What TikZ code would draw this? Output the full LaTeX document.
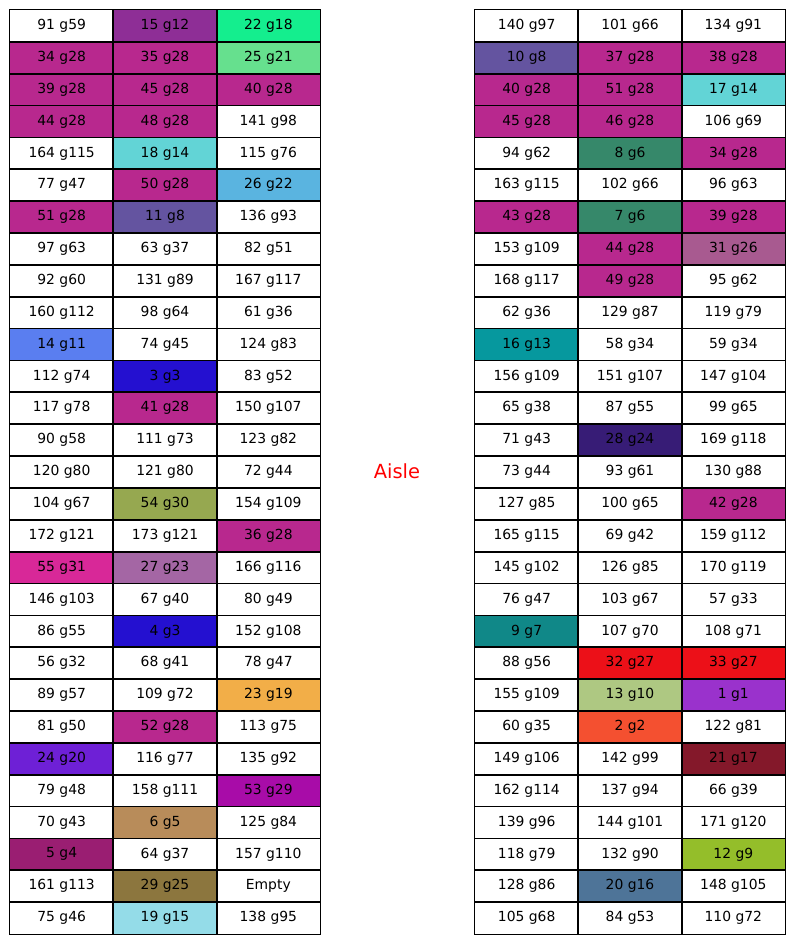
\documentclass[tikz,border=0pt]{standalone}
\usepackage{fontspec}
\setmainfont{DejaVu Sans}
\usepackage{tikz}

% group colours
\definecolor{g1}{HTML}{9A32CC}
\definecolor{g2}{HTML}{F45030}
\definecolor{g3}{HTML}{2410D0}
\definecolor{g4}{HTML}{9A1E72}
\definecolor{g5}{HTML}{B88C5A}
\definecolor{g6}{HTML}{36886A}
\definecolor{g7}{HTML}{108888}
\definecolor{g8}{HTML}{6454A0}
\definecolor{g9}{HTML}{94BE2A}
\definecolor{g10}{HTML}{AEC882}
\definecolor{g11}{HTML}{5A7EF0}
\definecolor{g12}{HTML}{8E2E96}
\definecolor{g13}{HTML}{06989E}
\definecolor{g14}{HTML}{62D4D6}
\definecolor{g15}{HTML}{94DCE8}
\definecolor{g16}{HTML}{4E7498}
\definecolor{g17}{HTML}{84182A}
\definecolor{g18}{HTML}{14EE8E}
\definecolor{g19}{HTML}{F2AE48}
\definecolor{g20}{HTML}{6E20D6}
\definecolor{g21}{HTML}{66E08E}
\definecolor{g22}{HTML}{5AB4E0}
\definecolor{g23}{HTML}{A466A4}
\definecolor{g24}{HTML}{371C76}
\definecolor{g25}{HTML}{8C763E}
\definecolor{g26}{HTML}{A85A90}
\definecolor{g27}{HTML}{EC1018}
\definecolor{g28}{HTML}{B8288E}
\definecolor{g29}{HTML}{A80CA8}
\definecolor{g30}{HTML}{96A850}
\definecolor{g31}{HTML}{D82898}

\tikzset{
  cell/.style={inner sep=0pt,
    minimum width=74.4pt, minimum height=22.94pt,
    font=\fontsize{10}{12}\selectfont},
  cellline/.style={draw=black, line width=0.85pt},
}

\begin{document}
\begin{tikzpicture}[x=0.72pt, y=-0.72pt]
\useasboundingbox (0,0) rectangle (794,944);
\def\cw{103.33}
\def\rh{31.862}
% left block
\foreach \r/\la/\fa/\lb/\fb/\lc/\fc in {
  1/91 g59/white/15 g12/g12/22 g18/g18,
  2/34 g28/g28/35 g28/g28/25 g21/g21,
  3/39 g28/g28/45 g28/g28/40 g28/g28,
  4/44 g28/g28/48 g28/g28/141 g98/white,
  5/164 g115/white/18 g14/g14/115 g76/white,
  6/77 g47/white/50 g28/g28/26 g22/g22,
  7/51 g28/g28/11 g8/g8/136 g93/white,
  8/97 g63/white/63 g37/white/82 g51/white,
  9/92 g60/white/131 g89/white/167 g117/white,
  10/160 g112/white/98 g64/white/61 g36/white,
  11/14 g11/g11/74 g45/white/124 g83/white,
  12/112 g74/white/3 g3/g3/83 g52/white,
  13/117 g78/white/41 g28/g28/150 g107/white,
  14/90 g58/white/111 g73/white/123 g82/white,
  15/120 g80/white/121 g80/white/72 g44/white,
  16/104 g67/white/54 g30/g30/154 g109/white,
  17/172 g121/white/173 g121/white/36 g28/g28,
  18/55 g31/g31/27 g23/g23/166 g116/white,
  19/146 g103/white/67 g40/white/80 g49/white,
  20/86 g55/white/4 g3/g3/152 g108/white,
  21/56 g32/white/68 g41/white/78 g47/white,
  22/89 g57/white/109 g72/white/23 g19/g19,
  23/81 g50/white/52 g28/g28/113 g75/white,
  24/24 g20/g20/116 g77/white/135 g92/white,
  25/79 g48/white/158 g111/white/53 g29/g29,
  26/70 g43/white/6 g5/g5/125 g84/white,
  27/5 g4/g4/64 g37/white/157 g110/white,
  28/161 g113/white/29 g25/g25/Empty/white,
  29/75 g46/white/19 g15/g15/138 g95/white}
{
  \node[cell, fill=\fa] (L\r-1) at ({10+0.5*\cw},{10+(\r-0.5)*\rh}) {\la};
  \node[cell, fill=\fb] (L\r-2) at ({10+1.5*\cw},{10+(\r-0.5)*\rh}) {\lb};
  \node[cell, fill=\fc] (L\r-3) at ({10+2.5*\cw},{10+(\r-0.5)*\rh}) {\lc};
}
% right block
\foreach \r/\la/\fa/\lb/\fb/\lc/\fc in {
  1/140 g97/white/101 g66/white/134 g91/white,
  2/10 g8/g8/37 g28/g28/38 g28/g28,
  3/40 g28/g28/51 g28/g28/17 g14/g14,
  4/45 g28/g28/46 g28/g28/106 g69/white,
  5/94 g62/white/8 g6/g6/34 g28/g28,
  6/163 g115/white/102 g66/white/96 g63/white,
  7/43 g28/g28/7 g6/g6/39 g28/g28,
  8/153 g109/white/44 g28/g28/31 g26/g26,
  9/168 g117/white/49 g28/g28/95 g62/white,
  10/62 g36/white/129 g87/white/119 g79/white,
  11/16 g13/g13/58 g34/white/59 g34/white,
  12/156 g109/white/151 g107/white/147 g104/white,
  13/65 g38/white/87 g55/white/99 g65/white,
  14/71 g43/white/28 g24/g24/169 g118/white,
  15/73 g44/white/93 g61/white/130 g88/white,
  16/127 g85/white/100 g65/white/42 g28/g28,
  17/165 g115/white/69 g42/white/159 g112/white,
  18/145 g102/white/126 g85/white/170 g119/white,
  19/76 g47/white/103 g67/white/57 g33/white,
  20/9 g7/g7/107 g70/white/108 g71/white,
  21/88 g56/white/32 g27/g27/33 g27/g27,
  22/155 g109/white/13 g10/g10/1 g1/g1,
  23/60 g35/white/2 g2/g2/122 g81/white,
  24/149 g106/white/142 g99/white/21 g17/g17,
  25/162 g114/white/137 g94/white/66 g39/white,
  26/139 g96/white/144 g101/white/171 g120/white,
  27/118 g79/white/132 g90/white/12 g9/g9,
  28/128 g86/white/20 g16/g16/148 g105/white,
  29/105 g68/white/84 g53/white/110 g72/white}
{
  \node[cell, fill=\fa] (R\r-1) at ({475+0.5*\cw},{10+(\r-0.5)*\rh}) {\la};
  \node[cell, fill=\fb] (R\r-2) at ({475+1.5*\cw},{10+(\r-0.5)*\rh}) {\lb};
  \node[cell, fill=\fc] (R\r-3) at ({475+2.5*\cw},{10+(\r-0.5)*\rh}) {\lc};
}
% cell borders on top of all fills
\foreach \s in {L,R}
  \foreach \r in {1,...,29}
    \foreach \c in {1,2,3}
      \draw[cellline] (\s\r-\c.south west) rectangle (\s\r-\c.north east);
% aisle label
\node[text=red, font=\fontsize{14}{16}\selectfont] (aisle) at (397,471) {Aisle};
\end{tikzpicture}
\end{document}
